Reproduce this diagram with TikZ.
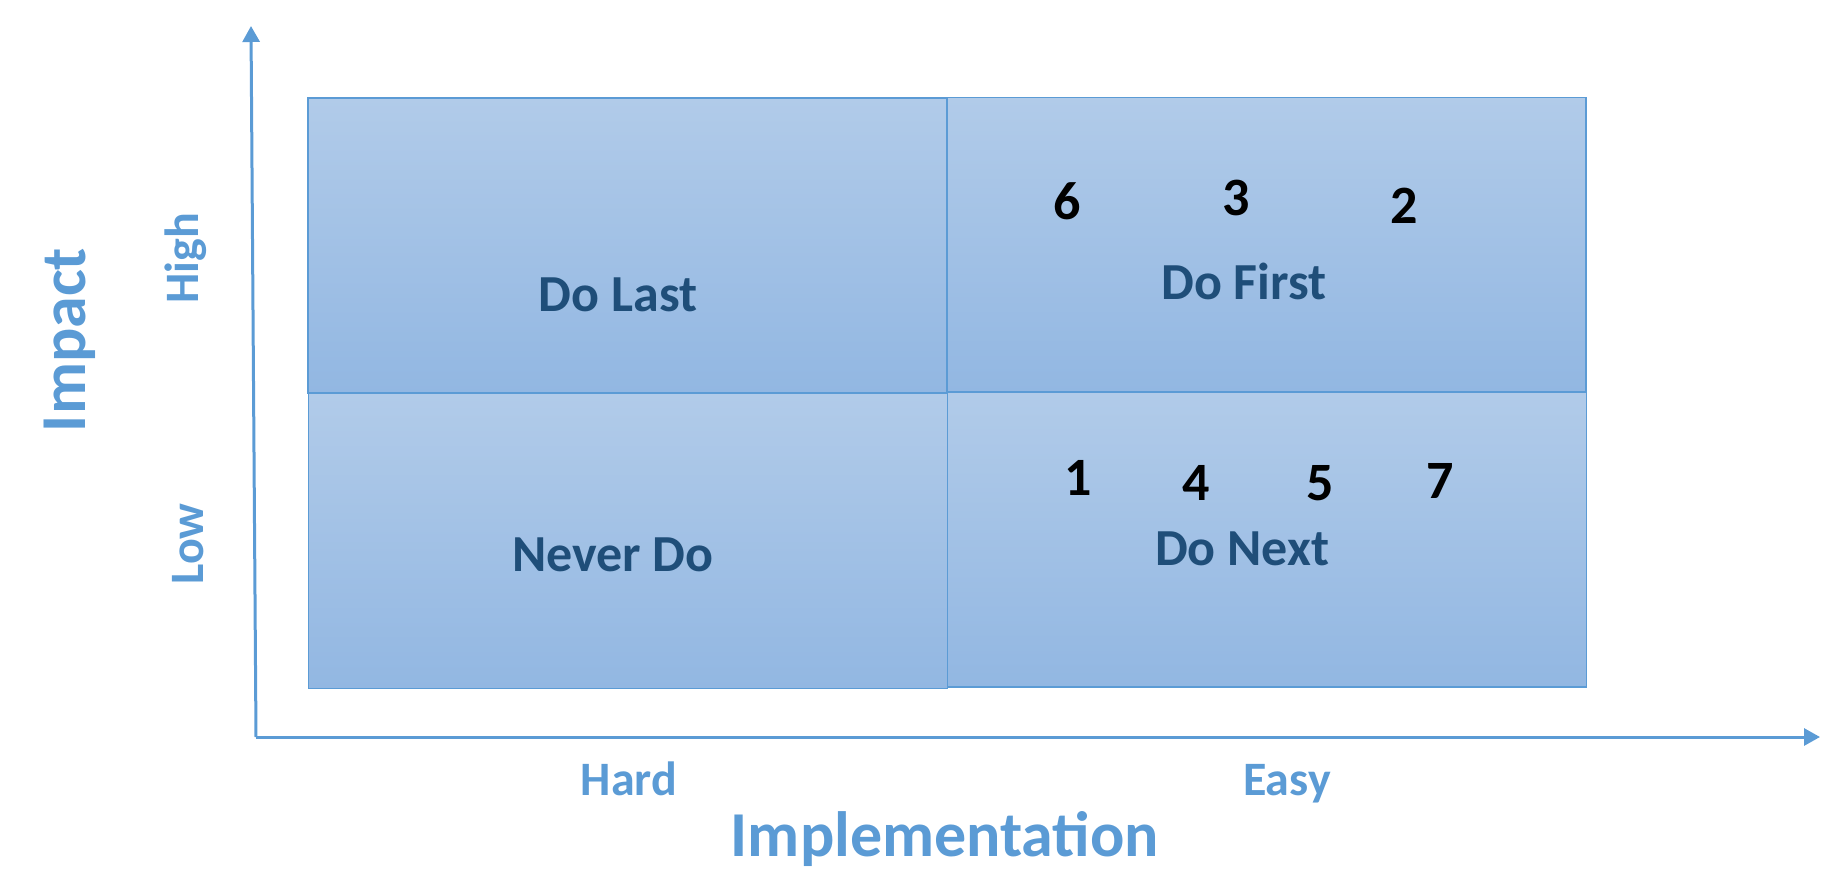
\documentclass[tikz,border=0pt]{standalone}
\usepackage{fontspec}
\setmainfont{Carlito}
\usetikzlibrary{arrows.meta}
\definecolor{axisblue}{RGB}{91,155,213}
\definecolor{quadtop}{RGB}{177,203,233}
\definecolor{quadbot}{RGB}{146,183,226}
\definecolor{labelblue}{RGB}{31,78,121}
\begin{document}
\begin{tikzpicture}[x=1pt,y=-1pt,
 quad/.style={draw=axisblue, line width=1.5pt, top color=quadtop, bottom color=quadbot,
   minimum width=639pt, minimum height=295pt, inner sep=0pt},
 quadlabel/.style={anchor=base, text=labelblue, font=\fontsize{52}{62}\selectfont\bfseries},
 rank/.style={anchor=base, text=black, font=\fontsize{54}{64}\selectfont\bfseries},
 axis/.style={draw=axisblue, line width=3pt, -{Triangle[length=16pt,width=17pt]}},
 axistitle/.style={anchor=base, text=axisblue, font=\fontsize{64}{76}\selectfont\bfseries},
 axistick/.style={anchor=base, text=axisblue, font=\fontsize{48}{56}\selectfont\bfseries}]

 \useasboundingbox (0,0) rectangle (1839,873);

 % quadrants
 \node[quad] (dolast)  at (627.5,245.5) {};
 \node[quad] (dofirst) at (1266.5,245) {};
 \node[quad] (neverdo) at (628,541) {};
 \node[quad] (donext)  at (1267,539.5) {};

 \node[quadlabel] (lastlbl)  at (618,311) {Do Last};
 \node[quadlabel] (firstlbl) at (1244,299) {Do First};
 \node[quadlabel] (neverlbl) at (613,571) {Never Do};
 \node[quadlabel] (nextlbl)  at (1242,565) {Do Next};

 % ranked items
 \node[rank] (r6) at (1067,219) {6};
 \node[rank] (r3) at (1236,215) {3};
 \node[rank] (r2) at (1404,223) {2};
 \node[rank] (r1) at (1078,495) {1};
 \node[rank] (r4) at (1196,500) {4};
 \node[rank] (r5) at (1320,500) {5};
 \node[rank] (r7) at (1440,498) {7};

 % axes
 \coordinate (origin) at (256,737);
 \coordinate (ytip) at (251,26);
 \coordinate (xtip) at (1820,737);
 \draw[axis] (origin) -- (ytip);
 \draw[axis] (origin) -- (xtip);

 \node[axistitle, rotate=90] (impact) at (85,340) {Impact};
 \node[axistick, rotate=90] (high) at (198,258) {High};
 \node[axistick, rotate=90] (low) at (203,544) {Low};

 \node[axistick] (hard) at (629,795) {Hard};
 \node[axistick] (easy) at (1287,795) {Easy};
 \node[axistitle] (impl) at (945,856) {Implementation};

\end{tikzpicture}
\end{document}
